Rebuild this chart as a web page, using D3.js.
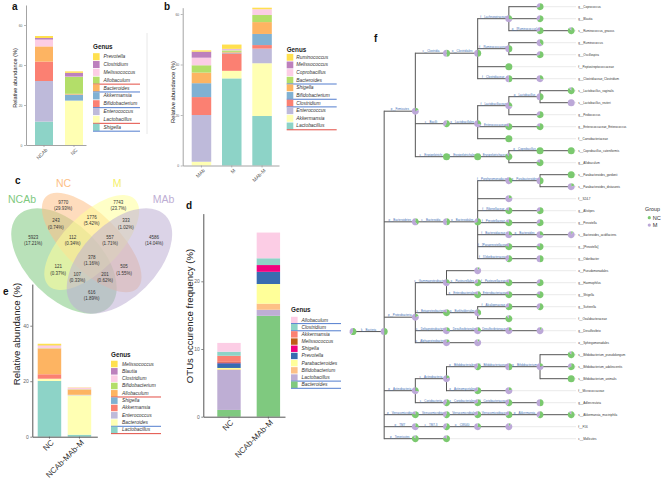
<!DOCTYPE html>
<html><head><meta charset="utf-8">
<script src="https://cdn.jsdelivr.net/npm/d3@7"></script>
<style>
body{margin:0;background:#fff}
svg{display:block;font-family:"Liberation Sans",Arial,Helvetica,sans-serif}
</style>
</head><body>
<svg id="fig" width="669" height="479"></svg>
<script>
// ================= DATA =================
// Panel a
const aSamples = ["NCAb", "NC"];
const aGenera = ["Prevotella","Clostridium","Melissococcus","Allobaculum","Bacteroides","Akkermansia","Bifidobacterium","Enterococcus","Lactobacillus","Shigella"];
const aNCAb = [1.0, 0.8, 3.4, 0, 7.6, 0, 9.7, 20.3, 0, 11.7];
const aNC   = [0.7, 1.9, 0.2, 8.4, 0.4, 3.0, 0, 0, 22.2, 0];
const aMarks = ["","","","r","b","","b","","r","b"];
const aTicks = [0, 20, 40, 60];

// Panel b
const bSamples = ["MAb", "M", "MAb-M"];
const bGenera = ["Ruminococcus","Melissococcus","Coprobacillus","Bacteroides","Shigella","Bifidobacterium","Clostridium","Enterococcus","Akkermansia","Lactobacillus"];
const bMAb  = [0.5, 2.4, 3.0, 2.9, 4.2, 5.5, 7.1, 18.5, 1.5, 0];
const bM    = [1.7, 0.2, 0.4, 0.6, 0.3, 0.3, 6.9, 0, 3.0, 34.5];
const bMAbM = [0.6, 0, 2.3, 2.8, 4.7, 4.4, 1.4, 5.8, 20.9, 19.6];
const bMarks = ["","","","b","","b","b","","","r"];
const bTicks = [0, 20, 40, 60];

// Panel c (Venn)
const vennSets = ["NCAb", "NC", "M", "MAb"];
const vennCounts = [9770, 7743, 243, 1776, 333, 5923, 112, 557, 4586, 378, 121, 505, 107, 201, 616];
const vennPercents = ["29.93%","23.7%","0.74%","5.42%","1.02%","17.21%","0.34%","1.71%","14.04%","1.16%","0.37%","1.55%","0.33%","0.62%","1.89%"];

// Panel d
const dSamples = ["NC", "NCAb-MAb-M"];
const dGenera = ["Allobaculum","Clostridium","Akkermansia","Melissococcus","Shigella","Prevotella","Parabacteroides","Bifidobacterium","Lactobacillus","Bacteroides"];
const dNC       = [1.3, 0.6, 0.9, 0.1, 0.1, 0.7, 0.2, 0.1, 5.9, 1.0];
const dNCAbMAbM = [3.8, 1.0, 0, 0, 1.0, 1.8, 2.9, 0.9, 0.9, 14.9];
const dMarks = ["b","b","","","","","","","b","b"];
const dTicks = [0, 10, 20];

// Panel e
const eSamples = ["NC", "NCAb-MAb-M"];
const eGenera = ["Melissococcus","Blautia","Clostridium","Bifidobacterium","Allobaculum","Shigella","Akkermansia","Enterococcus","Bacteroides","Lactobacillus"];
const eNC       = [0.6, 0.1, 0.9, 0.1, 9.3, 0, 1.6, 0, 0.8, 20.1];
const eNCAbMAbM = [0.1, 0, 0.6, 0.1, 1.9, 0, 0, 0.2, 14.2, 0.7];
const eMarks = ["","","","","r","","","","b","r"];
const eTicks = [0, 20, 40];

// Panel f (taxonomic tree): [node, parent, NC fraction of pie]
const treeNodes = [
 ["r__Root", null, 0.6],
 ["k__Bacteria","r__Root",0.5],
 ["p__Firmicutes","k__Bacteria",0.2],
 ["c__Clostridia","p__Firmicutes",0.5],
 ["o__Clostridiales","c__Clostridia",0.5],
 ["f__Lachnospiraceae","o__Clostridiales",0.3],
 ["g__Coprococcus","f__Lachnospiraceae",0.7],
 ["g__Blautia","f__Lachnospiraceae",0.65],
 ["g__[Ruminococcus]","f__Lachnospiraceae",0.7],
 ["s__Ruminococcus_gnavus","g__[Ruminococcus]",0.9],
 ["f__Ruminococcaceae","o__Clostridiales",0.5],
 ["g__Ruminococcus","f__Ruminococcaceae",0.4],
 ["g__Oscillospira","f__Ruminococcaceae",0.7],
 ["f__Peptostreptococcaceae","o__Clostridiales",1.0],
 ["f__Clostridiaceae","o__Clostridiales",0.5],
 ["g__Clostridiaceae_Clostridium","f__Clostridiaceae",0.3],
 ["c__Bacilli","p__Firmicutes",0.6],
 ["o__Lactobacillales","c__Bacilli",0.3],
 ["f__Lactobacillaceae","o__Lactobacillales",0.3],
 ["g__Lactobacillus","f__Lactobacillaceae",0.5],
 ["s__Lactobacillus_vaginalis","g__Lactobacillus",0.9],
 ["s__Lactobacillus_reuteri","g__Lactobacillus",0.0],
 ["g__Pediococcus","f__Lactobacillaceae",0.7],
 ["f__Enterococcaceae","o__Lactobacillales",0.8],
 ["g__Enterococcaceae_Enterococcus","f__Enterococcaceae",0.8],
 ["f__Carnobacteriaceae","o__Lactobacillales",1.0],
 ["c__Erysipelotrichi","p__Firmicutes",1.0],
 ["o__Erysipelotrichales","c__Erysipelotrichi",1.0],
 ["f__Erysipelotrichaceae","o__Erysipelotrichales",0.9],
 ["g__Coprobacillus","f__Erysipelotrichaceae",1.0],
 ["s__Coprobacillus_cateniformis","g__Coprobacillus",1.0],
 ["g__Allobaculum","f__Erysipelotrichaceae",0.8],
 ["p__Bacteroidetes","k__Bacteria",0.4],
 ["c__Bacteroidia","p__Bacteroidetes",0.5],
 ["o__Bacteroidales","c__Bacteroidia",0.7],
 ["f__Porphyromonadaceae","o__Bacteroidales",0.4],
 ["g__Parabacteroides","f__Porphyromonadaceae",0.5],
 ["s__Parabacteroides_gordonii","g__Parabacteroides",1.0],
 ["s__Parabacteroides_distasonis","g__Parabacteroides",0.2],
 ["f__S24-7","o__Bacteroidales",0.2],
 ["f__Rikenellaceae","o__Bacteroidales",0.8],
 ["g__Alistipes","f__Rikenellaceae",0.7],
 ["f__Prevotellaceae","o__Bacteroidales",0.8],
 ["g__Prevotella","f__Prevotellaceae",0.7],
 ["f__Bacteroidaceae","o__Bacteroidales",0.3],
 ["g__Bacteroides","f__Bacteroidaceae",0.3],
 ["s__Bacteroides_acidifaciens","g__Bacteroides",0.1],
 ["f__[Paraprevotellaceae]","o__Bacteroidales",0.8],
 ["g__[Prevotella]","f__[Paraprevotellaceae]",0.8],
 ["f__[Odoribacteraceae]","o__Bacteroidales",0.6],
 ["g__Odoribacter","f__[Odoribacteraceae]",0.5],
 ["p__Proteobacteria","k__Bacteria",0.2],
 ["c__Gammaproteobacteria","p__Proteobacteria",0.3],
 ["o__Pseudomonadales","c__Gammaproteobacteria",0.1],
 ["o__Pasteurellales","c__Gammaproteobacteria",0.7],
 ["f__Pasteurellaceae","o__Pasteurellales",0.8],
 ["g__Haemophilus","f__Pasteurellaceae",0.7],
 ["o__Enterobacteriales","c__Gammaproteobacteria",0.8],
 ["f__Enterobacteriaceae","o__Enterobacteriales",0.8],
 ["g__Shigella","f__Enterobacteriaceae",0.8],
 ["c__Betaproteobacteria","p__Proteobacteria",0.8],
 ["o__Burkholderiales","c__Betaproteobacteria",0.4],
 ["f__Alcaligenaceae","o__Burkholderiales",0.7],
 ["g__Sutterella","f__Alcaligenaceae",0.6],
 ["f__Oxalobacteraceae","o__Burkholderiales",0.9],
 ["c__Deltaproteobacteria","p__Proteobacteria",0.3],
 ["o__Desulfovibrionales","c__Deltaproteobacteria",0.3],
 ["f__Desulfovibrionaceae","o__Desulfovibrionales",0.2],
 ["g__Desulfovibrio","f__Desulfovibrionaceae",0.1],
 ["c__Alphaproteobacteria","p__Proteobacteria",0.2],
 ["o__Sphingomonadales","c__Alphaproteobacteria",0.1],
 ["p__Actinobacteria","k__Bacteria",0.3],
 ["c__Actinobacteria","p__Actinobacteria",0.2],
 ["o__Bifidobacteriales","c__Actinobacteria",0.6],
 ["f__Bifidobacteriaceae","o__Bifidobacteriales",0.5],
 ["g__Bifidobacterium","f__Bifidobacteriaceae",0.2],
 ["s__Bifidobacterium_pseudolongum","g__Bifidobacterium",0.9],
 ["s__Bifidobacterium_adolescentis","g__Bifidobacterium",0.7],
 ["s__Bifidobacterium_animalis","g__Bifidobacterium",1.0],
 ["o__Actinomycetales","c__Actinobacteria",0.7],
 ["f__Micrococcaceae","o__Actinomycetales",0.2],
 ["c__Coriobacteriia","p__Actinobacteria",0.6],
 ["o__Coriobacteriales","c__Coriobacteriia",0.7],
 ["f__Coriobacteriaceae","o__Coriobacteriales",0.6],
 ["g__Adlercreutzia","f__Coriobacteriaceae",0.5],
 ["p__Verrucomicrobia","k__Bacteria",0.8],
 ["c__Verrucomicrobiae","p__Verrucomicrobia",0.6],
 ["o__Verrucomicrobiales","c__Verrucomicrobiae",0.7],
 ["f__Verrucomicrobiaceae","o__Verrucomicrobiales",0.7],
 ["g__Akkermansia","f__Verrucomicrobiaceae",0.6],
 ["s__Akkermansia_muciniphila","g__Akkermansia",0.9],
 ["p__TM7","k__Bacteria",0.3],
 ["c__TM7-3","p__TM7",0.6],
 ["o__CW040","c__TM7-3",0.3],
 ["f__F16","o__CW040",0.1],
 ["p__Tenericutes","k__Bacteria",0.9],
 ["c__Mollicutes","p__Tenericutes",0.8]
];
const groupNames = ["NC", "M"];

// ================= STYLE =================
const set3Pal = ["#FFE04F","#BC80BD","#FCCDE5","#B3DE69","#FDB462","#80B1D3","#FB8072","#BEBADA","#FFFFB3","#8DD3C7"];
const dPal = ["#FCCDE5","#8DD3C7","#FB8072","#BF5B17","#F0027F","#386CB0","#FFFF99","#FDC086","#BEAED4","#7FC97F"];
const vennPal = ["#7FC97F","#FDC086","#FFFF99","#BEAED4"];
const vennLabelPal = ["#7FC97F","#FDC086","#F5F06A","#BEAED4"];
const groupPal = ["#7BC96F","#BCA8D8"];

const svg = d3.select("#fig");

function letter(t, x, y){
  svg.append("text").attr("x",x).attr("y",y).attr("font-size",10).attr("font-weight","bold").attr("fill","#111").text(t);
}

function barPanel(c){
  const g = svg.append("g");
  const x = d3.scaleBand().domain(c.samples).range(c.xRange)
    .paddingInner(c.pi).paddingOuter(c.po).align(c.align);
  const y = d3.scaleLinear().domain(c.yDomain).range(c.yRange);
  const rows = c.samples.map((s,i)=>{ const o={sample:s}; c.genera.forEach((gn,k)=>o[gn]=c.values[i][k]); return o; });
  const color = d3.scaleOrdinal().domain(c.genera).range(c.colors);
  const series = d3.stack().keys(c.genera.slice().reverse())(rows);
  g.append("g").selectAll("g").data(series).join("g").attr("fill", d=>color(d.key))
    .selectAll("rect").data(d=>d).join("rect")
    .attr("x", d=>x(d.data.sample)).attr("width", x.bandwidth())
    .attr("y", d=>y(d[1])).attr("height", d=>Math.max(0, y(d[0])-y(d[1])));
  const ya = g.append("g").attr("transform",`translate(${c.xRange[0]},0)`)
    .call(d3.axisLeft(y).tickValues(c.yTicks).tickSize(2).tickSizeOuter(0).tickPadding(1.5));
  const xa = g.append("g").attr("transform",`translate(0,${c.yRange[0]})`)
    .call(d3.axisBottom(x).tickSize(2).tickSizeOuter(0).tickFormat(()=>""));
  [ya, xa].forEach(a=>{
    a.select(".domain").attr("stroke",c.axisColor).attr("stroke-width",c.axisW);
    a.selectAll(".tick line").attr("stroke",c.axisColor).attr("stroke-width",0.7);
    a.selectAll("text").attr("font-size",c.tickFont).attr("fill","#666").attr("font-family",null);
  });
  c.samples.forEach(s=>{
    g.append("text")
      .attr("transform",`translate(${x(s)+x.bandwidth()/2+1},${c.yRange[0]+2.5}) rotate(-45)`)
      .attr("text-anchor","end").attr("dominant-baseline","hanging")
      .attr("font-size",c.xlFont).attr("fill",c.xlColor).text(s);
  });
  g.append("text").attr("transform",`translate(${c.titleX},${c.titleY}) rotate(-90)`)
    .attr("text-anchor","middle").attr("dominant-baseline","central")
    .attr("font-size",c.titleFont).attr("fill","#222").text(c.title);
  // legend
  const L = c.leg;
  g.append("text").attr("x",L.x).attr("y",L.titleY).attr("font-size",6.3).attr("font-weight","bold").attr("fill","#222").text("Genus");
  c.genera.forEach((gn,k)=>{
    const cy = L.y0 + k*L.step;
    g.append("rect").attr("x",L.x).attr("y",cy-L.step/2+0.4).attr("width",6.6).attr("height",L.step-0.8).attr("fill",color(gn));
    g.append("text").attr("x",L.x+L.tx).attr("y",cy).attr("dominant-baseline","central")
      .attr("font-size",4.9).attr("font-style","italic").attr("fill","#333").text(gn);
    const m = c.marks[k];
    if(m){
      g.append("line").attr("x1",L.x).attr("x2",L.x+L.len).attr("y1",cy+L.step/2).attr("y2",cy+L.step/2)
        .attr("stroke", m==="r" ? "#E0392E" : "#3E6EC8").attr("stroke-width",0.9);
    }
  });
}

// ---- Panel a
letter("a", 12, 10);
barPanel({samples:aSamples, genera:aGenera, values:[aNCAb,aNC], colors:set3Pal,
  xRange:[26,86], pi:0.4, po:0.2, align:0.75, yDomain:[0,70], yRange:[145,5], yTicks:aTicks,
  axisColor:"#9a9a9a", axisW:0.9, tickFont:3.4, xlFont:5, xlColor:"#555",
  title:"Relative abundance (%)", titleX:14.5, titleY:78, titleFont:5.6,
  marks:aMarks, leg:{x:93, titleY:49, y0:56.7, step:7.84, tx:10.5, len:47}});
svg.append("line").attr("x1",147).attr("x2",147).attr("y1",33).attr("y2",134).attr("stroke","#e2e2e2").attr("stroke-width",0.8);

// ---- Panel b
letter("b", 164, 10);
barPanel({samples:bSamples, genera:bGenera, values:[bMAb,bM,bMAbM], colors:set3Pal,
  xRange:[182.7,279], pi:0.356, po:0.267, align:0.556, yDomain:[0,62.5], yRange:[165.5,7.7], yTicks:bTicks,
  axisColor:"#9a9a9a", axisW:0.9, tickFont:3.4, xlFont:5, xlColor:"#555",
  title:"Relative abundance (%)", titleX:172.5, titleY:92, titleFont:5.8,
  marks:bMarks, leg:{x:286.7, titleY:51.5, y0:57.3, step:7.63, tx:9.5, len:50}});

// ---- Panel c (Venn)
letter("c", 15, 184);
(function(){
  const s = 185, cx = 91.7, cy0 = 205.5;
  const px = u => cx + (u-0.5)*s, py = v => cy0 + (0.77-v)*s;
  const ell = [[0.35,0.47,0.35,0.20,45],[0.50,0.57,0.35,0.15,45],[0.50,0.57,0.33,0.15,-45],[0.65,0.47,0.35,0.20,-45]];
  const g = svg.append("g");
  g.selectAll("ellipse").data(vennSets).join("ellipse")
    .attr("transform",(d,i)=>`translate(${px(ell[i][0])},${py(ell[i][1])}) rotate(${ell[i][4]})`)
    .attr("rx",(d,i)=>ell[i][2]*s).attr("ry",(d,i)=>ell[i][3]*s)
    .attr("fill",(d,i)=>vennPal[i]).attr("fill-opacity",0.55).attr("stroke","none");
  const setLabelPos = [[22,203],[63.5,187],[117,187],[163.5,203]];
  g.selectAll("text.set").data(vennSets).join("text").attr("class","set")
    .attr("x",(d,i)=>setLabelPos[i][0]).attr("y",(d,i)=>setLabelPos[i][1])
    .attr("text-anchor","middle").attr("font-size",10.5).attr("fill",(d,i)=>vennLabelPal[i]).text(d=>d);
  const pos = [[0.346,0.77],[0.644,0.77],[0.307,0.67],[0.5,0.689],[0.685,0.67],[0.184,0.581],[0.397,0.579],[0.599,0.579],[0.837,0.581],[0.5,0.474],[0.319,0.421],[0.675,0.421],[0.422,0.382],[0.572,0.382],[0.5,0.282]];
  vennCounts.forEach((n,i)=>{
    const X = px(pos[i][0]), Y = py(pos[i][1]);
    g.append("text").attr("x",X).attr("y",Y-3.1).attr("text-anchor","middle").attr("dominant-baseline","central")
      .attr("font-size",4.5).attr("fill","#333").text(n);
    g.append("text").attr("x",X).attr("y",Y+3.1).attr("text-anchor","middle").attr("dominant-baseline","central")
      .attr("font-size",4.5).attr("fill","#333").text("("+vennPercents[i]+")");
  });
})();

// ---- Panel d
letter("d", 186, 209);
barPanel({samples:dSamples, genera:dGenera, values:[dNC,dNCAbMAbM], colors:dPal,
  xRange:[203.3,285], pi:0.406, po:0.24, align:0.74, yDomain:[0,30], yRange:[416.7,213.6], yTicks:dTicks,
  axisColor:"#555", axisW:1, tickFont:5, xlFont:8, xlColor:"#333",
  title:"OTUs occurence frequency (%)", titleX:189, titleY:316, titleFont:9.6,
  marks:dMarks, leg:{x:291, titleY:312, y0:320, step:7.19, tx:10.5, len:50}});

// ---- Panel e
letter("e", 3, 295);
barPanel({samples:eSamples, genera:eGenera, values:[eNC,eNCAbMAbM], colors:set3Pal,
  xRange:[32.3,97.3], pi:0.217, po:0.192, align:0.47, yDomain:[0,55], yRange:[436.7,284.1], yTicks:eTicks,
  axisColor:"#555", axisW:1, tickFont:5, xlFont:8, xlColor:"#333",
  title:"Relative abundance (%)", titleX:16, titleY:334, titleFont:9.6,
  marks:eMarks, leg:{x:111, titleY:356.5, y0:364, step:7.33, tx:11, len:50}});

// ---- Panel f (tree)
letter("f", 374, 42);
(function(){
  const root = d3.stratify().id(d=>d[0]).parentId(d=>d[1])(treeNodes);
  const xDepth = d3.scaleLinear().domain([0,7]).range([353,571.2]);
  const nTips = root.leaves().length;
  const yTip = d3.scaleLinear().domain([0,nTips-1]).range([6.7,438.7]);
  let ti = 0;
  root.eachBefore(n=>{ if(!n.children){ n.tipIndex = ti++; } });
  root.eachAfter(n=>{
    n.px = xDepth(n.depth);
    n.py = n.children ? d3.mean(n.children, c=>c.py) : yTip(n.tipIndex);
  });
  const g = svg.append("g");
  const nodes = root.descendants();
  g.selectAll("line.ext").data(root.leaves()).join("line").attr("class","ext")
    .attr("x1",d=>d.px).attr("x2",576).attr("y1",d=>d.py).attr("y2",d=>d.py)
    .attr("stroke","#e3e3e3").attr("stroke-width",0.8);
  g.selectAll("line.h").data(nodes.filter(n=>n.parent)).join("line").attr("class","h")
    .attr("x1",d=>d.parent.px).attr("x2",d=>d.px).attr("y1",d=>d.py).attr("y2",d=>d.py)
    .attr("stroke","#555").attr("stroke-width",1);
  g.selectAll("line.v").data(nodes.filter(n=>n.children && n.children.length>1)).join("line").attr("class","v")
    .attr("x1",d=>d.px).attr("x2",d=>d.px)
    .attr("y1",d=>d.children[0].py).attr("y2",d=>d.children[d.children.length-1].py)
    .attr("stroke","#555").attr("stroke-width",1).attr("stroke-linecap","square");
  g.selectAll("text.br").data(nodes.filter(n=>n.parent && n.children)).join("text").attr("class","br")
    .attr("x",d=>(d.parent.px+d.px)/2).attr("y",d=>d.py-0.9).attr("text-anchor","middle")
    .attr("font-size",2.9).attr("fill","#3d6fb6").text(d=>d.id);
  g.selectAll("text.tip").data(root.leaves()).join("text").attr("class","tip")
    .attr("x",578.3).attr("y",d=>d.py).attr("dominant-baseline","central")
    .attr("font-size",3).attr("fill","#333").text(d=>d.id);
  const pie = d3.pie().sort(null).value(v=>v);
  const arc = d3.arc().innerRadius(0).outerRadius(3.5);
  const pg = g.selectAll("g.pie").data(nodes).join("g").attr("class","pie")
    .attr("transform",d=>`translate(${d.px},${d.py})`);
  pg.selectAll("path").data(d=>pie([d.data[2], 1-d.data[2]])).join("path")
    .attr("d",arc).attr("fill",(d,i)=>groupPal[i]);
  const lg = svg.append("g");
  lg.append("text").attr("x",645).attr("y",210.5).attr("font-size",5.4).attr("fill","#333").text("Group");
  groupNames.forEach((gn,i)=>{
    const yy = 217.7 + i*7.4;
    lg.append("circle").attr("cx",649.3).attr("cy",yy).attr("r",1.6).attr("fill",groupPal[i]);
    lg.append("text").attr("x",652.7).attr("y",yy).attr("dominant-baseline","central").attr("font-size",5.6).attr("fill","#333").text(gn);
  });
})();
</script>
</body></html>
